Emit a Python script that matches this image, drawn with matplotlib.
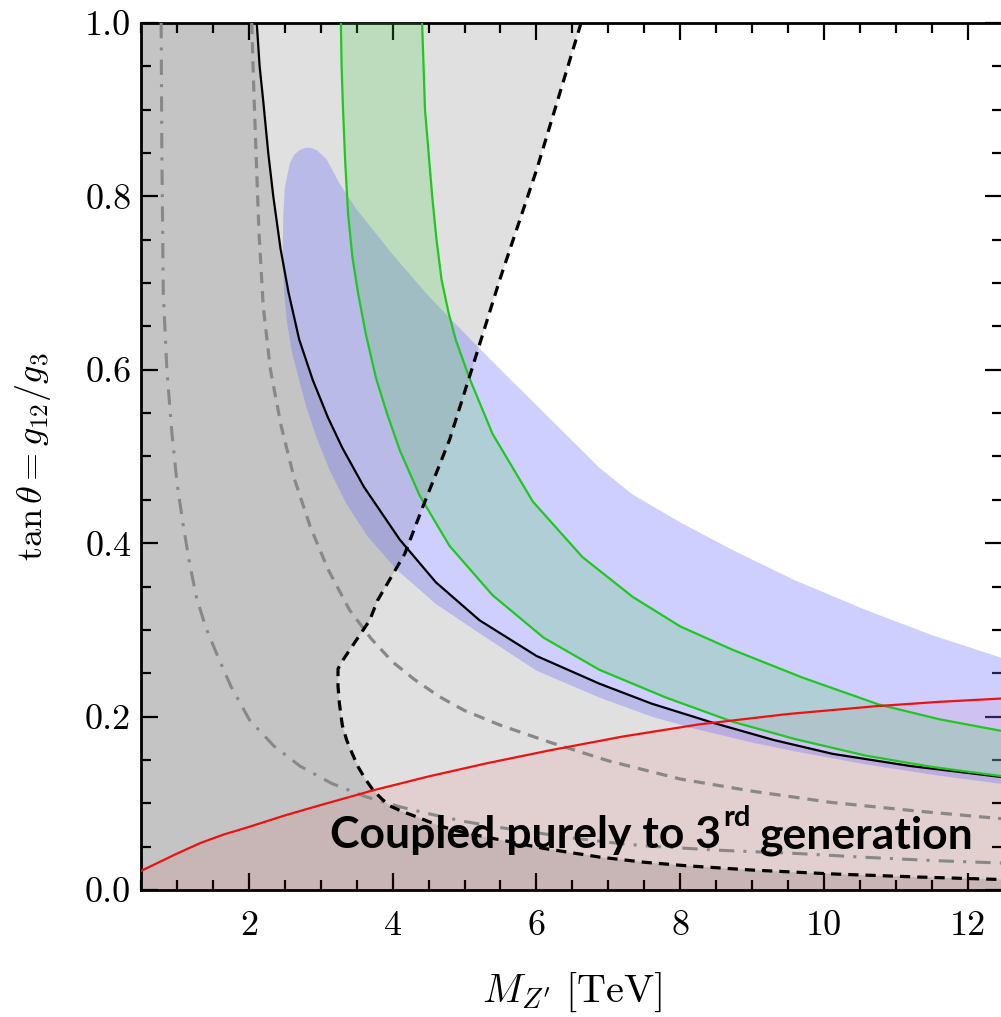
import matplotlib
matplotlib.use("Agg")
import matplotlib.pyplot as plt
from matplotlib.ticker import MultipleLocator

plt.rcParams['mathtext.fontset'] = 'cm'
plt.rcParams['font.family'] = 'cmr10'
plt.rcParams['axes.formatter.use_mathtext'] = True

# curves: (M_Z' in TeV, tan theta)
black_x = [2.11, 2.15, 2.20, 2.27, 2.34, 2.44, 2.55, 2.7, 2.89, 3.1, 3.3, 3.6, 4.1, 4.6, 5.21,
           6.0, 6.875, 7.6, 8.45, 9.3, 10.12, 11.2, 12.5]
black_y = [1.0, 0.95, 0.91, 0.85, 0.80, 0.74, 0.69, 0.635, 0.588, 0.545, 0.51, 0.465, 0.404,
           0.355, 0.311, 0.27, 0.238, 0.215, 0.193, 0.173, 0.157, 0.143, 0.130]

bdash_x = [6.62, 6.0, 5.49, 5.11, 4.79, 4.42, 4.17, 3.79, 3.68, 3.29, 3.24, 3.24, 3.26, 3.30,
           3.36, 3.44, 3.52, 3.62, 3.73, 3.85, 3.96, 4.15, 4.33, 4.65, 5.0, 5.49, 6.1, 6.875,
           7.5, 8.08, 9.0, 10.12, 11.3, 12.5]
bdash_y = [1.0, 0.83, 0.704, 0.603, 0.519, 0.442, 0.388, 0.334, 0.311, 0.263, 0.255, 0.235,
           0.215, 0.19, 0.173, 0.157, 0.142, 0.128, 0.115, 0.105, 0.097, 0.09, 0.0845, 0.074,
           0.066, 0.058, 0.048, 0.038, 0.032, 0.028, 0.023, 0.0185, 0.015, 0.012]

gdash_x = [2.04, 2.07, 2.10, 2.14, 2.20, 2.3, 2.45, 2.63, 2.85, 3.1, 3.4, 3.7, 4.0, 4.3, 4.65,
           5.0, 5.5, 6.2, 7.0, 8.0, 9.0, 10.1, 11.3, 12.5]
gdash_y = [1.0, 0.92, 0.85, 0.76, 0.673, 0.6, 0.535, 0.475, 0.42, 0.37, 0.323, 0.29, 0.263,
           0.243, 0.223, 0.207, 0.19, 0.17, 0.149, 0.128, 0.114, 0.101, 0.091, 0.082]

gdot_x = [0.78, 0.79, 0.81, 0.86, 0.93, 1.0, 1.09, 1.18, 1.27, 1.4, 1.55, 1.75, 2.01, 2.35,
          2.71, 3.15, 3.63, 4.1, 4.5, 5.0, 5.5, 6.0, 6.5, 7.0, 7.5, 8.5, 9.65, 10.5, 11.5, 12.5]
gdot_y = [1.0, 0.85, 0.688, 0.6, 0.527, 0.47, 0.419, 0.375, 0.338, 0.303, 0.273, 0.235, 0.196,
          0.166, 0.143, 0.123, 0.1075, 0.096, 0.088, 0.079, 0.072, 0.066, 0.060, 0.055, 0.051,
          0.046, 0.042, 0.038, 0.034, 0.031]

red_x = [0.5, 0.65, 0.8, 1.0, 1.32, 1.65, 2.01, 2.5, 3.0, 3.73, 4.5, 5.3, 6.18, 7.2, 8.26,
         9.5, 10.72, 11.6, 12.5]
red_y = [0.022, 0.028, 0.034, 0.042, 0.054, 0.064, 0.073, 0.086, 0.098, 0.115, 0.131, 0.146,
         0.161, 0.177, 0.191, 0.203, 0.212, 0.217, 0.221]

gl_x = [3.28, 3.29, 3.31, 3.34, 3.38, 3.44, 3.52, 3.63, 3.77, 3.92, 4.1, 4.375, 4.79, 5.39,
        6.1, 6.875, 7.8, 8.73, 9.6, 10.58, 11.5, 12.5]
gl_y = [1.0, 0.95, 0.9, 0.84, 0.78, 0.73, 0.688, 0.64, 0.59, 0.55, 0.507, 0.455, 0.397, 0.34,
        0.291, 0.254, 0.222, 0.194, 0.174, 0.155, 0.142, 0.131]
gr_x = [4.41, 4.43, 4.45, 4.5, 4.55, 4.61, 4.68, 4.78, 4.88, 5.07, 5.39, 5.95, 6.64, 7.34,
        8.0, 8.73, 9.7, 10.76, 11.6, 12.5]
gr_y = [1.0, 0.95, 0.9, 0.85, 0.8, 0.75, 0.704, 0.665, 0.634, 0.59, 0.526, 0.448, 0.384,
        0.338, 0.304, 0.277, 0.245, 0.214, 0.197, 0.183]

blue_up_x = [2.57, 2.63, 2.7, 2.78, 2.86, 2.95, 3.08, 3.26, 3.5, 4.0, 4.5, 5.12, 5.6, 6.27,
             6.875, 7.34, 8.0, 8.73, 9.6, 10.58, 11.5, 12.5]
blue_up_y = [0.838, 0.848, 0.853, 0.856, 0.856, 0.853, 0.843, 0.815, 0.785, 0.733, 0.685,
             0.632, 0.592, 0.537, 0.487, 0.456, 0.424, 0.392, 0.357, 0.323, 0.294, 0.267]
blue_lo_x = [2.5, 2.48, 2.47, 2.49, 2.53, 2.6, 2.70, 2.8, 2.94, 3.12, 3.36, 3.65, 4.05, 4.6,
             5.21, 6.0, 6.875, 7.6, 8.2, 9.0, 9.65, 10.5, 11.5, 12.5]
blue_lo_y = [0.81, 0.78, 0.734, 0.69, 0.655, 0.62, 0.588, 0.557, 0.522, 0.485, 0.445, 0.408,
             0.37, 0.33, 0.296, 0.253, 0.222, 0.2, 0.186, 0.17, 0.159, 0.146, 0.133, 0.122]

fig = plt.figure(figsize=(10.01, 10.17), dpi=100)
ax = fig.add_axes([141 / 1001, 127 / 1017, 861 / 1001, 867 / 1017])
ax.set_xlim(0.5, 12.475)
ax.set_ylim(0, 1)

# gray excluded regions (two overlapping layers)
ax.fill([0.5, 0.5] + black_x + [12.5], [0, 1.0] + black_y + [0], color='black', alpha=0.12, lw=0, zorder=1)
ax.fill([0.5, 0.5] + bdash_x + [12.5], [0, 1.0] + bdash_y + [0], color='black', alpha=0.12, lw=0, zorder=1)

# red region
ax.fill_between(red_x, 0, red_y, color='#ff0000', alpha=0.075, lw=0, zorder=2)

# blue band
ax.fill(blue_up_x + blue_lo_x[::-1], blue_up_y + blue_lo_y[::-1], color='#6a6aff', alpha=0.32, lw=0, zorder=2)

# green band
ax.fill(gl_x + gr_x[::-1], gl_y + gr_y[::-1], color='#44cc44', alpha=0.22, lw=0, zorder=3)

ax.plot(gdot_x, gdot_y, color='#888888', lw=2.2, dashes=(5, 3, 1, 3), zorder=4)
ax.plot(gdash_x, gdash_y, color='#888888', lw=2.3, dashes=(3.5, 2.5), zorder=4)
ax.plot(black_x, black_y, color='black', lw=1.6, zorder=5)
ax.plot(gl_x, gl_y, color='#1ec81e', lw=1.6, zorder=5)
ax.plot(gr_x, gr_y, color='#1ec81e', lw=1.6, zorder=5)
ax.plot(red_x, red_y, color='#ee1111', lw=1.6, zorder=5)
ax.plot(bdash_x, bdash_y, color='black', lw=2.3, dashes=(3.2, 2.2), zorder=6)

ax.xaxis.set_major_locator(MultipleLocator(2))
ax.xaxis.set_minor_locator(MultipleLocator(0.5))
ax.yaxis.set_major_locator(MultipleLocator(0.2))
ax.yaxis.set_minor_locator(MultipleLocator(0.05))
ax.yaxis.set_major_formatter(plt.FuncFormatter(lambda v, p: f'{v:.1f}'))
ax.xaxis.set_major_formatter(plt.FuncFormatter(lambda v, p: f'{v:.0f}'))
ax.tick_params(which='both', direction='in', top=True, right=True, width=1.6, labelsize=26)
ax.tick_params(which='major', length=12)
ax.tick_params(which='minor', length=7)
ax.tick_params(axis='x', pad=15)
ax.tick_params(axis='y', pad=7)
for s in ax.spines.values():
    s.set_linewidth(2)

ax.set_xlabel(r"$M_{Z^{\prime}}\ [\mathrm{TeV}]$", fontsize=29)
ax.xaxis.set_label_coords(0.5, -0.093)
ax.set_ylabel(r"$\tan\theta = g_{12}/g_3$", fontsize=26)
ax.yaxis.set_label_coords(-0.102, 0.5)

# annotation
t1 = ax.text(3.13, 0.048, 'Coupled purely to 3', fontsize=32, fontweight='bold',
             family='Lato', va='baseline', ha='left', zorder=8)
fig.canvas.draw()
r = fig.canvas.get_renderer()
bb = t1.get_window_extent(r)
inv = ax.transData.inverted()
x_end = inv.transform((bb.x1, bb.y0))[0]
t2 = ax.text(x_end + 0.03, 0.074, 'rd', fontsize=21, fontweight='bold', family='Lato',
             va='baseline', ha='left', zorder=8)
bb2 = t2.get_window_extent(r)
x_end2 = inv.transform((bb2.x1, bb2.y0))[0]
ax.text(x_end2 + 0.12, 0.048, 'generation', fontsize=32, fontweight='bold', family='Lato',
        va='baseline', ha='left', zorder=8)

fig.savefig('out.png', dpi=100)
